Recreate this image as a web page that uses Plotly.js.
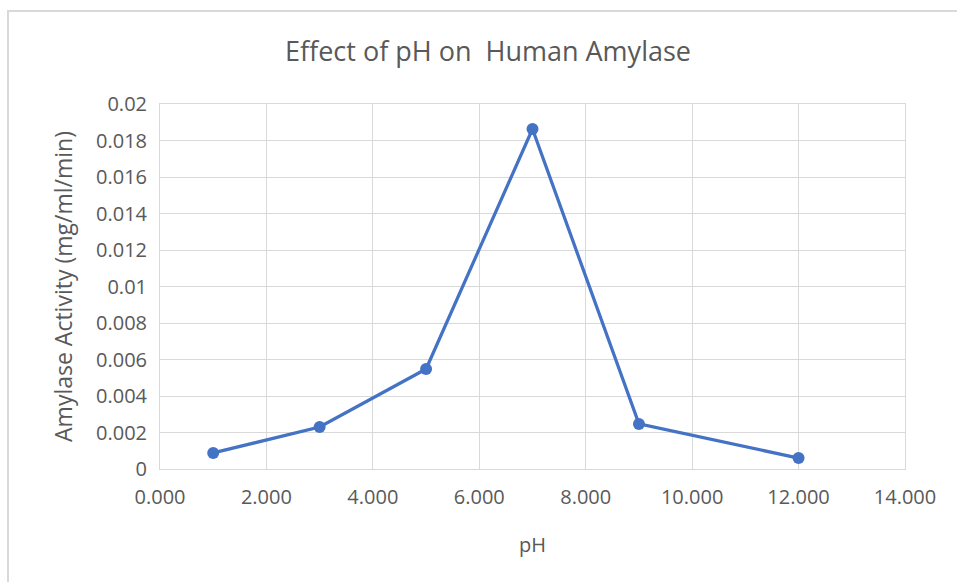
<!DOCTYPE html>
<html>
<head>
<meta charset="utf-8">
<script src="https://cdn.plot.ly/plotly-3.0.1.min.js"></script>
<style>
html,body{margin:0;padding:0;background:#fff;}
#chart{width:957px;height:582px;}
</style>
</head>
<body>
<div id="chart"></div>
<script>
const phValues = [1, 3, 5, 7, 9, 12];
const activityValues = [0.00088, 0.0023, 0.00548, 0.01863, 0.00247, 0.0006];
const xTickValues = [0, 2, 4, 6, 8, 10, 12, 14];
const xTickLabels = ["0.000", "2.000", "4.000", "6.000", "8.000", "10.000", "12.000", "14.000"];
const yTickValues = [0, 0.002, 0.004, 0.006, 0.008, 0.01, 0.012, 0.014, 0.016, 0.018, 0.02];
const yTickLabels = ["0", "0.002", "0.004", "0.006", "0.008", "0.01", "0.012", "0.014", "0.016", "0.018", "0.02"];

const font = "'Open Sans', Lato, sans-serif";
const grey = "#595959";

const trace = {
  x: phValues,
  y: activityValues,
  type: "scatter",
  mode: "lines+markers",
  line: {color: "#4472C4", width: 3.25},
  marker: {color: "#4472C4", size: 12},
  hoverinfo: "x+y"
};

const layout = {
  width: 957,
  height: 582,
  margin: {l: 160, r: 52, t: 104, b: 113},
  paper_bgcolor: "#fff",
  plot_bgcolor: "#fff",
  showlegend: false,
  title: {
    text: "Effect of pH on  Human Amylase",
    font: {family: font, size: 27, color: grey},
    x: 488/957, xanchor: "center", xref: "container",
    y: 1 - 52/582, yanchor: "middle"
  },
  xaxis: {
    range: [0, 14],
    tickvals: xTickValues,
    ticktext: xTickLabels,
    showgrid: true,
    gridcolor: "#d9d9d9",
    gridwidth: 1,
    zeroline: false,
    showline: true,
    linecolor: "#d9d9d9",
    linewidth: 1,
    mirror: true,
    ticks: "",
    ticklabelstandoff: 10,
    tickfont: {family: font, size: 20, color: grey},
    title: {text: "pH", font: {family: font, size: 20, color: grey}, standoff: 28}
  },
  yaxis: {
    range: [0, 0.02],
    tickvals: yTickValues,
    ticktext: yTickLabels,
    showgrid: true,
    gridcolor: "#d9d9d9",
    gridwidth: 1,
    zeroline: false,
    showline: true,
    linecolor: "#d9d9d9",
    linewidth: 1,
    mirror: true,
    ticks: "",
    ticklabelstandoff: 8,
    tickfont: {family: font, size: 20, color: grey},
    title: {text: "Amylase Activity (mg/ml/min)", font: {family: font, size: 23, color: grey}, standoff: 16}
  },
  shapes: [{
    type: "rect", xref: "paper", yref: "paper",
    x0: -152/745, x1: 1.08, y0: -0.33, y1: 458/365,
    line: {color: "#d9d9d9", width: 2},
    fillcolor: "rgba(0,0,0,0)",
    layer: "below"
  }]
};

Plotly.newPlot("chart", [trace], layout, {displayModeBar: false, staticPlot: true});
</script>
</body>
</html>
